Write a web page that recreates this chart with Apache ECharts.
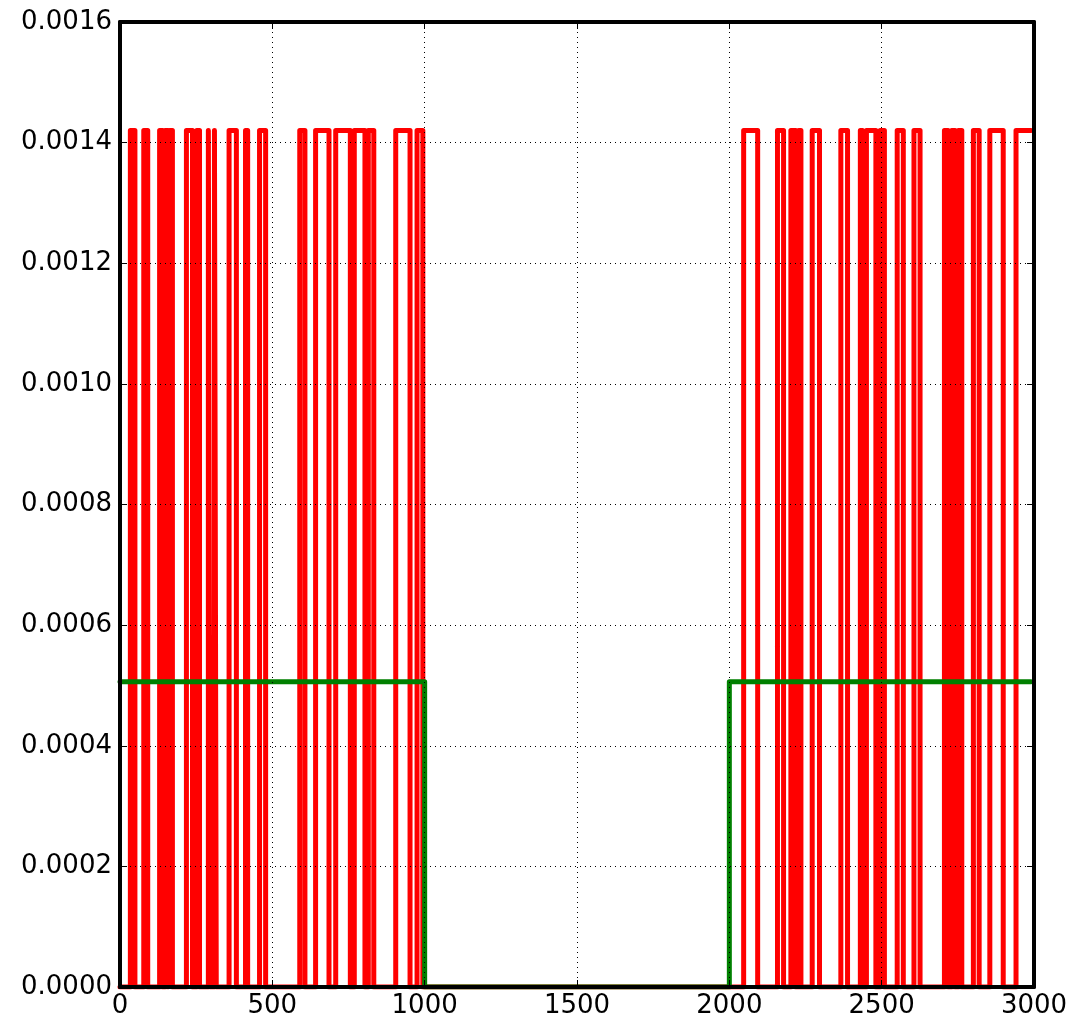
<!DOCTYPE html>
<html>
<head>
<meta charset="utf-8">
<script src="https://cdn.jsdelivr.net/npm/echarts@6/dist/echarts.min.js"></script>
<style>
  html, body { margin: 0; padding: 0; background: #fff; }
  #chart { width: 1074px; height: 1019px; }
</style>
</head>
<body>
<div id="chart"></div>
<script>
// high level of the red pulses and the green mean level
var redHigh = 0.00142;
var greenLevel = 0.000506;
var xEnd = 2990;

// red pulses: [rise, fall] in x units
var redPulses = [
  [34, 49], [78, 91], [130, 140], [148, 158], [163, 172], [218, 238], [252, 261],
  [290, 296], [310, 316], [358, 382], [412, 419], [458, 478], [590, 607], [642, 686],
  [708, 756], [769, 804], [815, 833], [905, 952], [975, 994],
  [2047, 2093], [2158, 2178], [2202, 2218], [2228, 2235], [2272, 2296], [2366, 2388],
  [2430, 2437], [2450, 2481], [2495, 2509], [2551, 2571], [2606, 2626], [2706, 2718],
  [2730, 2741], [2752, 2763], [2801, 2820], [2855, 2899], [2941, 2990]
];

// green on-periods: [start, end]
var greenOn = [[0, 1000], [2000, xEnd]];

var xTicks = { min: 0, max: 3000, interval: 500 };
var yTicks = { min: 0, max: 0.0016, interval: 0.0002 };

function steps(pulses, level) {
  var pts = [[0, 0]];
  pulses.forEach(function (p) {
    pts.push([p[0], 0], [p[0], level], [p[1], level]);
    if (p[1] < xEnd) pts.push([p[1], 0]);
  });
  var last = pts[pts.length - 1];
  if (last[0] < xEnd) pts.push([xEnd, last[1]]);
  return pts;
}

var redData = steps(redPulses, redHigh);
var greenData = [];
greenOn.forEach(function (g, i) {
  if (i === 0 && g[0] === 0) greenData.push([0, greenLevel]);
  else greenData.push([g[0], 0], [g[0], greenLevel]);
  greenData.push([g[1], greenLevel]);
  if (g[1] < xEnd) greenData.push([g[1], 0]);
});

var font = 'DejaVu Sans';
var myChart = echarts.init(document.getElementById('chart'));
var axisLine = { show: true, onZero: false, lineStyle: { color: '#000', width: 4 } };
var tick = { show: true, inside: true, length: 7, lineStyle: { color: '#000', width: 1 } };
var option = {
  animation: false,
  backgroundColor: '#fff',
  grid: { left: 120, top: 22, width: 914, height: 965 },
  xAxis: [
    {
      type: 'value', min: xTicks.min, max: xTicks.max, interval: xTicks.interval,
      z: 10, axisLine: axisLine, axisTick: tick,
      axisLabel: {
        color: '#000', fontFamily: font, fontSize: 26, margin: 6,
        formatter: function (v) { return String(v); }
      },
      splitLine: { show: true, lineStyle: { color: '#000', type: [1, 4], width: 1 } }
    },
    {
      type: 'value', position: 'top', min: xTicks.min, max: xTicks.max, interval: xTicks.interval,
      z: 10, axisLine: axisLine, axisTick: tick, axisLabel: { show: false }, splitLine: { show: false }
    }
  ],
  yAxis: [
    {
      type: 'value', min: yTicks.min, max: yTicks.max, interval: yTicks.interval,
      z: 10, axisLine: axisLine, axisTick: tick,
      axisLabel: {
        color: '#000', fontFamily: font, fontSize: 26, margin: 8,
        formatter: function (v) { return v.toFixed(4); }
      },
      splitLine: { show: true, lineStyle: { color: '#000', type: [1, 4], width: 1 } }
    },
    {
      type: 'value', position: 'right', min: yTicks.min, max: yTicks.max, interval: yTicks.interval,
      z: 10, axisLine: axisLine, axisTick: tick, axisLabel: { show: false }, splitLine: { show: false }
    }
  ],
  series: [
    {
      name: 'red', type: 'line', data: redData, showSymbol: false, symbol: 'none',
      clip: true, z: 2,
      lineStyle: { color: '#ff0000', width: 5, cap: 'round', join: 'round' }
    },
    {
      name: 'green', type: 'line', data: greenData, showSymbol: false, symbol: 'none',
      clip: true, z: 3,
      lineStyle: { color: '#008000', width: 5, cap: 'round', join: 'round' }
    }
  ]
};
myChart.setOption(option);
</script>
</body>
</html>
